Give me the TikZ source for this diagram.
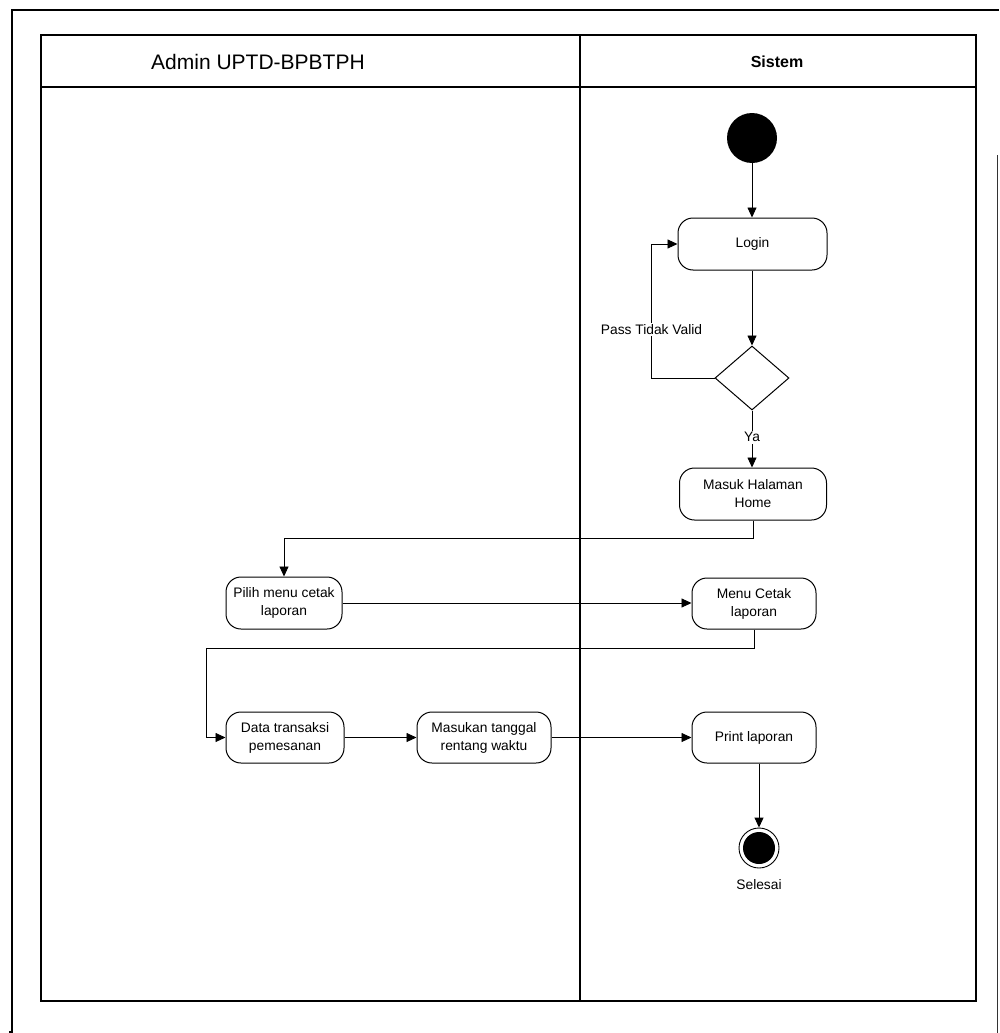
\documentclass[tikz,border=0pt]{standalone}
\usepackage{fontspec}
\setmainfont{Liberation Sans}
\usetikzlibrary{arrows.meta,shapes.geometric,calc}

\tikzset{
  frame/.style={line width=2pt, black},
  lane/.style={line width=1.2pt, black},
  action/.style={draw, line width=1pt, rounded corners=15pt, align=center,
    font=\fontsize{13.8pt}{18pt}\selectfont, inner sep=2pt},
  flow/.style={line width=0.9pt, -{Triangle[length=10pt,width=9pt]}},
  lbl/.style={font=\fontsize{13.8pt}{18pt}\selectfont, fill=white, inner sep=1.5pt},
  decision/.style={draw, diamond, line width=1pt, minimum width=74pt,
    minimum height=64pt, inner sep=0pt, aspect=1.16},
  startnode/.style={circle, fill=black, minimum size=50pt, inner sep=0pt},
  endnode/.style={circle, draw, line width=0.9pt, minimum size=40pt, inner sep=0pt}
}

\begin{document}
\begin{tikzpicture}[x=1pt, y=-1pt]
  \useasboundingbox (0,0) rectangle (999,1033);

  % outer page frame
  \draw[frame] (12,1032) -- (12,10) -- (999,10);
  \draw[frame] (9,1031.5) -- (13,1031.5);
  \draw[line width=1.5pt, black!80] (997.5,155) -- (997.5,1033);

  % swimlanes
  \draw[lane] (41,35) rectangle (976,1001);
  \draw[lane] (41,87) -- (976,87);
  \draw[lane] (580,35) -- (580,1001);
  \node (hAdmin) at (258,62) {\fontsize{21pt}{25pt}\selectfont Admin UPTD-BPBTPH};
  \node (hSistem) at (777,62) {\fontsize{16pt}{19pt}\selectfont\bfseries Sistem};

  % activities
  \node[startnode] (start) at (752,138) {};
  \node[action, minimum width=149pt, minimum height=52pt] (login) at (752.5,244) {Login};
  \node[decision] (dec) at (752,378) {};
  \node[action, minimum width=147pt, minimum height=52pt] (masuk) at (753,494) {Masuk Halaman\\Home};
  \node[action, minimum width=116pt, minimum height=52pt] (pilih) at (284,603) {Pilih menu cetak\\laporan};
  \node[action, minimum width=124pt, minimum height=51pt] (menu) at (754,603.5) {Menu Cetak\\laporan};
  \node[action, minimum width=118pt, minimum height=51pt] (data) at (285,737.5) {Data transaksi\\pemesanan};
  \node[action, minimum width=134pt, minimum height=51pt] (tanggal) at (484,737.5) {Masukan tanggal\\rentang waktu};
  \node[action, minimum width=124pt, minimum height=51pt] (print) at (754,737.5) {Print laporan};
  \node[endnode] (finish) at (759,848) {};
  \fill (finish.center) circle (16pt);
  \node[font=\fontsize{13.8pt}{18pt}\selectfont] (selesai) at (759,885) {Selesai};

  % control flow
  \draw[flow] (start) -- (start |- login.north);
  \draw[flow] (login.south -| dec.north) -- (dec.north);
  \draw[flow] (dec.west) -| node[lbl, pos=0.68] (pass) {Pass Tidak Valid}
    ([xshift=-26pt]login.west) -- (login.west);
  \draw[flow] (dec.south) -- node[lbl, pos=0.47] (ya) {Ya} (dec.south |- masuk.north);
  \draw[flow] (masuk.south) -- ++(0,18) -| (pilih.north);
  \draw[flow] (pilih.east) -- (pilih.east -| menu.west);
  \draw[flow] (menu.south) -- ++(0,19) -| ([xshift=-19pt]data.west) -- (data.west);
  \draw[flow] (data.east) -- (tanggal.west);
  \draw[flow] (tanggal.east) -- (print.west);
  \draw[flow] (finish |- print.south) -- (finish.north);
\end{tikzpicture}
\end{document}
